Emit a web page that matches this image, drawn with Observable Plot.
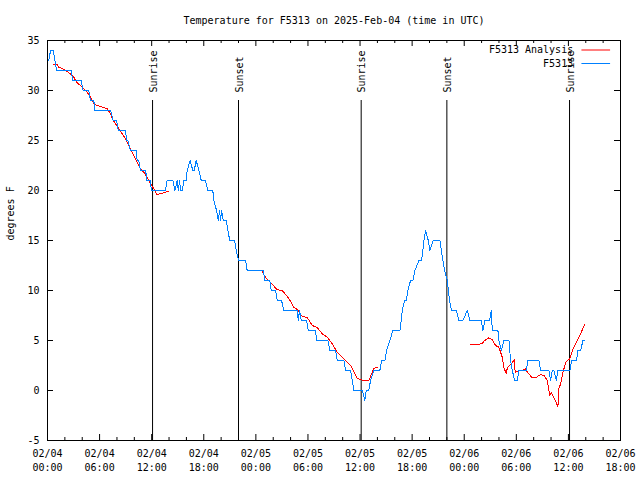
<!DOCTYPE html>
<html><head><meta charset="utf-8">
<script src="https://cdn.jsdelivr.net/npm/d3@7"></script>
<script src="https://cdn.jsdelivr.net/npm/@observablehq/plot@0.6"></script>
<style>html,body{margin:0;padding:0;background:#fff}</style>
</head><body><div id="chart"></div>
<script>
const titleText = "Temperature for F5313 on 2025-Feb-04 (time in UTC)";
const yLabelText = "degrees F";
const xTicks = [0, 6, 12, 18, 24, 30, 36, 42, 48, 54, 60, 66];
const xTickLabels = ["02/04\n00:00","02/04\n06:00","02/04\n12:00","02/04\n18:00","02/05\n00:00","02/05\n06:00","02/05\n12:00","02/05\n18:00","02/06\n00:00","02/06\n06:00","02/06\n12:00","02/06\n18:00"];
const xMinorTicks = [2, 4, 8, 10, 14, 16, 20, 22, 26, 28, 32, 34, 38, 40, 44, 46, 50, 52, 56, 58, 62, 64];
const yTicks = [-5, 0, 5, 10, 15, 20, 25, 30, 35];
const sunHours = [12.1, 22.0, 36.13, 46.0, 60.13];
const sunLabels = ["Sunrise", "Sunset", "Sunrise", "Sunset", "Sunrise"];
const seriesNames = ["F5313 Analysis", "F5313"];
const seriesColors = ["#ff0000", "#0080ff"];

// F5313 observations (hours since 2025-02-04 00:00 UTC, degrees F)
const obsHours = [0.15,0.35,0.66,0.85,1.05,2.73,2.91,3.88,4.1,4.76,4.95,5.33,5.47,7.26,7.57,7.95,8.15,8.99,9.1,9.25,9.56,10.22,10.33,10.52,10.71,11.32,11.41,11.87,11.95,13.59,13.77,14.44,14.67,14.94,15.06,15.21,15.32,15.52,15.7,15.98,16.09,16.42,16.74,16.9,17.13,17.43,17.71,18.2,18.47,19.04,19.16,19.47,19.67,19.82,19.93,20.05,20.24,20.59,20.77,21.0,21.54,21.74,22.0,22.81,23.0,24.85,25.03,25.61,25.77,26.27,26.46,26.96,27.22,28.77,28.88,29.03,29.23,29.85,30.03,30.88,30.99,32.29,32.52,33.18,33.38,34.14,34.33,34.91,35.29,36.26,36.55,36.72,37.01,37.21,37.59,38.28,38.48,38.86,39.06,39.44,39.78,40.59,40.75,40.86,41.13,41.32,41.51,41.82,42.09,42.32,42.78,43.09,43.24,43.35,43.55,43.86,44.04,44.44,45.2,45.36,45.54,45.74,46.05,46.17,46.31,46.54,47.08,47.39,47.85,48.35,48.65,49.97,50.15,50.38,50.92,51.12,51.23,51.88,51.99,52.27,52.57,53.15,53.34,53.54,53.8,54.11,54.3,55.15,55.33,56.6,56.8,57.75,57.95,58.15,58.33,58.6,58.79,60.17,60.37,60.94,61.09,61.41,61.67,61.87];
const obsTemps = [33,34,34,33,32,32,31,31,30,30,29,29,28,28,27,27,26,26,25,25,24,24,23,23,22,22,21,21,20,20,21,21,20,21,20,21,20,20,21,21,22,23,22,22,23,22,21,21,20,20,19,18,17,18,17,18,17,17,16,15,15,14,13,13,12,12,11,11,10,10,9,9,8,8,7,8,7,7,6,6,5,5,4,4,3,3,2,2,0,0,-1,0,0,1,2,2,3,3,4,5,6,6,7,8,9,9,10,11,11,12,13,13,14,15,16,15,14,15,15,14,13,12,11,10,9,8,8,7,7,8,7,7,6,7,7,8,6,6,5,4,5,5,3,2,1,1,2,2,3,3,2,2,1,2,2,1,2,2,3,3,4,4,5,5];

// F5313 Analysis (null breaks the line)
const anaHours = [0.66,1.12,1.3,1.69,2.07,2.65,3.03,3.34,3.8,4.18,4.57,4.95,5.33,5.73,6.3,6.88,7.26,7.45,7.83,8.21,8.61,8.99,9.37,9.64,9.94,10.33,10.71,11.09,11.49,11.87,12.25,12.56,13.02,13.59,13.97,null,24.73,25.12,25.69,26.46,27.04,27.8,28.38,28.77,29.34,29.92,30.5,31.07,31.65,32.22,32.8,33.38,34.14,34.91,35.68,36.44,37.02,37.59,37.98,null,48.73,49.5,50.08,50.27,50.84,51.23,51.61,51.99,52.38,52.57,52.85,52.96,53.34,53.8,53.86,54.11,54.69,55.07,55.27,55.84,56.22,56.8,57.18,57.57,57.75,57.87,58.03,58.33,58.6,58.79,58.9,59.1,59.29,59.68,60.14,60.33,60.63,61.02,61.41,61.9];
const anaTemps = [32.57,32.57,32.33,32.2,32.0,31.67,31.33,30.83,30.5,30.17,29.83,29.33,28.67,28.5,28.33,28.17,27.67,27.17,26.67,26.17,25.67,25.17,24.5,24.0,23.5,22.83,22.17,21.83,21.33,20.67,20.17,19.6,19.67,19.83,19.9,null,11.9,11.3,10.8,10.07,10.0,9.2,8.3,8.1,7.4,7.3,6.5,6.3,5.67,5.33,4.67,3.8,3.17,2.5,1.2,1.0,1.0,2.2,2.33,null,4.6,4.6,4.7,4.93,5.27,5.07,4.5,4.33,3.33,2.27,1.67,2.27,2.6,3.07,1.83,1.93,2.0,2.17,1.83,1.27,1.27,1.6,1.5,1.0,0.0,-0.5,-0.17,-0.73,-1.17,-1.67,0.17,0.67,1.5,2.83,3.17,3.67,4.33,5.0,5.67,6.67];

const obs = obsHours.map((h, i) => ({h, t: obsTemps[i]}));
const ana = anaHours.map((h, i) => ({h, t: anaTemps[i]}));
const sun = sunHours.map((h, i) => ({h, label: sunLabels[i]}));
// legend rows placed in the top-right corner of the plot (hours / degrees)
const legend = seriesNames.map((name, i) => ({name, color: seriesColors[i], ty: 34.05 - i * 1.35}));

const frameH = 400, frameW = 573;
const chart = Plot.plot({
  width: 640, height: 480,
  marginLeft: 47, marginRight: 20, marginTop: 40, marginBottom: 40,
  x: {domain: [0, 66], axis: null},
  y: {domain: [-5, 35], axis: null},
  color: {type: "identity"},
  style: {fontFamily: "'DejaVu Sans Mono', monospace", fontSize: "10px", background: "#fff", color: "#000"},
  marks: [
    Plot.frame({stroke: "#000"}),
    Plot.ruleX(xTicks, {insetTop: frameH - 6, stroke: "#000"}),
    Plot.ruleX(xTicks, {insetBottom: frameH - 6, stroke: "#000"}),
    Plot.ruleX(xMinorTicks, {insetTop: frameH - 3, stroke: "#000"}),
    Plot.ruleX(xMinorTicks, {insetBottom: frameH - 3, stroke: "#000"}),
    Plot.ruleY(yTicks, {insetRight: frameW - 6, stroke: "#000"}),
    Plot.ruleY(yTicks, {insetLeft: frameW - 6, stroke: "#000"}),
    Plot.text(xTicks, {x: d => d, text: (d, i) => xTickLabels[i], frameAnchor: "bottom", dy: 7, lineAnchor: "top", lineHeight: 1.4}),
    Plot.text(yTicks, {y: d => d, text: d => String(d), frameAnchor: "left", dx: -8, textAnchor: "end", lineAnchor: "middle"}),
    Plot.text([yLabelText], {frameAnchor: "left", dx: -37, rotate: -90, lineAnchor: "middle"}),
    Plot.text([titleText], {frameAnchor: "top", dy: -20, lineAnchor: "middle"}),
    Plot.ruleX(sun, {x: "h", insetTop: 60, stroke: "#000"}),
    Plot.text(sun, {x: "h", text: "label", frameAnchor: "top", dy: 52, dx: 1, rotate: -90, textAnchor: "start", lineAnchor: "middle"}),
    Plot.line(ana, {x: "h", y: "t", stroke: seriesColors[0], strokeWidth: 1, shapeRendering: "crispEdges"}),
    Plot.line(obs, {x: "h", y: "t", stroke: seriesColors[1], strokeWidth: 1, shapeRendering: "crispEdges"}),
    Plot.text(legend, {x: () => 60.55, y: "ty", text: "name", textAnchor: "end", lineAnchor: "middle"}),
    Plot.link(legend, {x1: () => 61.5, x2: () => 64.8, y1: "ty", y2: "ty", stroke: "color", strokeWidth: 1})
  ]
});
document.getElementById("chart").appendChild(chart);
</script>
</body></html>
